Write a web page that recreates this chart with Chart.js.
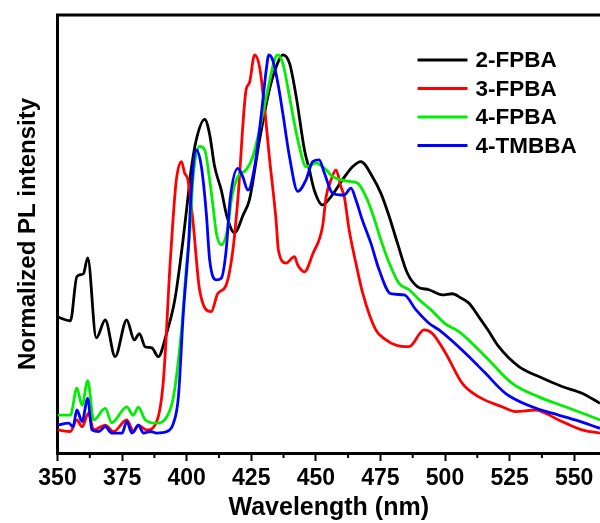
<!DOCTYPE html>
<html>
<head>
<meta charset="utf-8">
<script src="https://cdn.jsdelivr.net/npm/chart.js@4.4.1/dist/chart.umd.min.js"></script>
<style>
  body { margin: 0; background: #fff; }
  #caja { width: 600px; height: 523px; }
</style>
</head>
<body>
<div id="caja"><canvas id="graficoPL" width="600" height="523"></canvas></div>
<script>
// series (nm / intensidad normalizada)
const nombres = ["2-FPBA", "3-FPBA", "4-FPBA", "4-TMBBA"];
const colores = ["#000000", "#ff0000", "#00ee00", "#0000ff"];

const onda2F = [350, 355, 357.5, 360, 361.7, 365, 368.5, 372.3, 376.8, 379.7, 381.7, 383.9, 386.5, 389, 392.2, 395.4, 398.6, 400.4, 401.5, 403.7, 407, 408.9, 410.8, 413.4, 415.6, 418.5, 422, 424.3, 428.2, 432, 435.2, 437.2, 439.8, 442.4, 445.6, 447.5, 449.4, 452.6, 455.9, 460.3, 464.2, 467.4, 471.9, 475.2, 478.4, 481.6, 485.4, 489.3, 493.8, 499, 502.8, 506, 509.3, 513.1, 516.5, 520.8, 528.6, 536.3, 545.3, 553, 560];
const int2F = [0.342, 0.332, 0.443, 0.45, 0.49, 0.289, 0.334, 0.242, 0.334, 0.284, 0.30, 0.267, 0.264, 0.242, 0.30, 0.384, 0.535, 0.636, 0.70, 0.786, 0.838, 0.80, 0.72, 0.66, 0.594, 0.553, 0.60, 0.636, 0.786, 0.912, 0.979, 1.0, 0.979, 0.895, 0.761, 0.711, 0.66, 0.623, 0.644, 0.686, 0.719, 0.732, 0.694, 0.652, 0.594, 0.527, 0.452, 0.418, 0.41, 0.397, 0.40, 0.39, 0.376, 0.342, 0.31, 0.267, 0.217, 0.192, 0.167, 0.15, 0.125];

const onda3F = [350, 355, 357.5, 359.5, 362, 364, 368.5, 371.7, 376.8, 379.5, 381.3, 384.5, 388.4, 391, 393.6, 394.7, 396, 398, 399.2, 400.5, 402.4, 405, 409.5, 412, 415.3, 417.9, 419.8, 423, 424.3, 426.3, 428.2, 430.1, 432, 434.6, 435.5, 438.5, 441.7, 443, 445.6, 448.8, 452.6, 454, 455.9, 457.8, 459.7, 461, 462.9, 465.5, 468.2, 473.2, 477, 481, 486.1, 491.9, 495.1, 500.3, 506.7, 513.1, 522.1, 527.3, 535, 544, 553, 560];
const int3F = [0.058, 0.054, 0.083, 0.066, 0.10, 0.058, 0.07, 0.054, 0.083, 0.054, 0.07, 0.058, 0.079, 0.183, 0.477, 0.585, 0.686, 0.732, 0.703, 0.686, 0.585, 0.41, 0.355, 0.40, 0.422, 0.51, 0.636, 0.912, 0.93, 1.0, 0.97, 0.87, 0.744, 0.585, 0.51, 0.477, 0.493, 0.472, 0.455, 0.50, 0.569, 0.644, 0.686, 0.711, 0.669, 0.644, 0.56, 0.477, 0.40, 0.309, 0.285, 0.271, 0.267, 0.309, 0.30, 0.25, 0.175, 0.141, 0.116, 0.104, 0.108, 0.083, 0.058, 0.05];

const onda4F = [350, 355, 357.5, 359.5, 361.7, 364, 368.5, 371, 376.8, 379.3, 381.3, 384, 388.4, 392.3, 394.9, 398, 400, 401.2, 402.4, 405, 407, 408.9, 410.2, 411.5, 413.4, 416, 417.3, 419.8, 423, 425.6, 428.2, 431.4, 434, 435.2, 437.2, 439.8, 441.7, 443.6, 446.2, 450.1, 454, 456.5, 459.7, 463, 466.1, 469.4, 471.9, 475.2, 478.4, 482.2, 486.1, 490, 494.5, 500, 505.4, 515.7, 526, 536.3, 546.6, 560];
const int4F = [0.095, 0.095, 0.163, 0.12, 0.182, 0.083, 0.112, 0.076, 0.116, 0.095, 0.115, 0.083, 0.075, 0.091, 0.141, 0.309, 0.477, 0.552, 0.686, 0.77, 0.761, 0.686, 0.62, 0.552, 0.523, 0.569, 0.636, 0.694, 0.711, 0.744, 0.812, 0.912, 0.987, 1.0, 0.979, 0.895, 0.828, 0.77, 0.719, 0.728, 0.711, 0.694, 0.686, 0.682, 0.678, 0.644, 0.602, 0.535, 0.477, 0.426, 0.41, 0.385, 0.36, 0.325, 0.305, 0.242, 0.175, 0.141, 0.116, 0.083];

const onda4T = [350, 354.3, 356, 357.5, 359.5, 361.7, 363.3, 366, 368.5, 371, 375, 376.8, 378.8, 381.3, 383.3, 386, 388.4, 392.3, 394.9, 396.8, 398.7, 400.7, 401.8, 403.7, 405.7, 407.6, 408.9, 411.5, 413.4, 415.3, 416.8, 419.8, 421.7, 423.7, 426.3, 428.8, 430.8, 431.8, 433.3, 435.3, 437.2, 439.8, 443, 446.2, 448.8, 451.3, 453.3, 456.5, 459.7, 461, 463.6, 465.5, 468, 471.3, 474.5, 479, 484.2, 488.7, 493.8, 497.7, 508, 515.7, 523.4, 533.7, 541.4, 550.4, 560];
const int4T = [0.07, 0.075, 0.066, 0.108, 0.079, 0.137, 0.058, 0.054, 0.066, 0.05, 0.05, 0.079, 0.05, 0.07, 0.05, 0.054, 0.05, 0.054, 0.075, 0.141, 0.351, 0.52, 0.66, 0.761, 0.719, 0.602, 0.485, 0.435, 0.439, 0.51, 0.636, 0.715, 0.694, 0.66, 0.719, 0.845, 0.962, 1.0, 0.987, 0.929, 0.854, 0.744, 0.657, 0.686, 0.732, 0.736, 0.703, 0.652, 0.648, 0.648, 0.665, 0.636, 0.585, 0.527, 0.46, 0.40, 0.397, 0.36, 0.326, 0.309, 0.25, 0.20, 0.15, 0.116, 0.10, 0.083, 0.062];

const xTicks = [350, 375, 400, 425, 450, 475, 500, 525, 550];

const ondas = [onda2F, onda3F, onda4F, onda4T];
const intensidades = [int2F, int3F, int4F, int4T];

const fuente = '"Liberation Sans", Arial, sans-serif';
Chart.defaults.color = "#000";
Chart.defaults.font.family = fuente;

// leyenda y marco superior, ticks menores
const extras = {
  id: "extras",
  afterDraw(chart) {
    const ctx = chart.ctx;
    const area = chart.chartArea;
    const xs = chart.scales.x;
    ctx.save();
    ctx.strokeStyle = "#000";
    ctx.lineWidth = 3;
    ctx.beginPath();
    ctx.moveTo(area.left - 1.5, area.top);
    ctx.lineTo(area.right, area.top);
    ctx.stroke();

    ctx.lineWidth = 2;
    for (let i = 0; i < xTicks.length; i++) {
      const px = xs.getPixelForValue(xTicks[i] + 12.5);
      if (px > area.right) continue;
      ctx.beginPath();
      ctx.moveTo(px, area.bottom);
      ctx.lineTo(px, area.bottom + 5);
      ctx.stroke();
    }

    ctx.font = "bold 22.5px " + fuente;
    ctx.textBaseline = "middle";
    ctx.fillStyle = "#000";
    chart.data.datasets.forEach((ds, i) => {
      const y = area.top + 45 + i * 28.5;
      ctx.strokeStyle = ds.borderColor;
      ctx.lineWidth = 3;
      ctx.beginPath();
      ctx.moveTo(area.left + 360, y);
      ctx.lineTo(area.left + 410, y);
      ctx.stroke();
      ctx.fillText(ds.label, area.left + 418, y + 1);
    });
    ctx.restore();
  }
};

const ctx = document.getElementById("graficoPL").getContext("2d");
new Chart(ctx, {
  type: "line",
  data: {
    datasets: nombres.map((n, i) => ({
      label: n,
      data: ondas[i].map((x, k) => ({ x: x, y: intensidades[i][k] })),
      borderColor: colores[i],
      borderWidth: 2.8,
      pointRadius: 0,
      cubicInterpolationMode: "monotone",
      order: 4 - i,
    })),
  },
  options: {
    responsive: false,
    animation: false,
    layout: { padding: { top: 15, right: 0, left: 0, bottom: 0 } },
    plugins: { legend: { display: false }, tooltip: { enabled: false } },
    scales: {
      x: {
        type: "linear",
        min: 350,
        max: 560,
        afterFit: (scale) => { scale.height = 70; },
        afterBuildTicks: (scale) => { scale.ticks = xTicks.map((v) => ({ value: v })); },
        ticks: {
          font: { size: 23, weight: "bold" },
          padding: 4,
          maxRotation: 0,
          callback: (v) => String(v),
        },
        grid: { drawOnChartArea: false, tickLength: 8, tickWidth: 2, tickColor: "#000" },
        border: { color: "#000", width: 3 },
        title: {
          display: true,
          text: "Wavelength (nm)",
          font: { size: 25, weight: "bold" },
          padding: { top: 0, bottom: 0 },
        },
      },
      y: {
        min: 0,
        max: 1.1,
        afterFit: (scale) => { scale.width = 57.5; },
        ticks: { display: false },
        grid: { drawOnChartArea: false, drawTicks: false },
        border: { color: "#000", width: 3 },
        title: {
          display: true,
          text: "Normalized PL intensity",
          font: { size: 24, weight: "bold" },
          padding: { top: 14, bottom: 0 },
        },
      },
    },
  },
  plugins: [extras],
});
</script>
</body>
</html>
